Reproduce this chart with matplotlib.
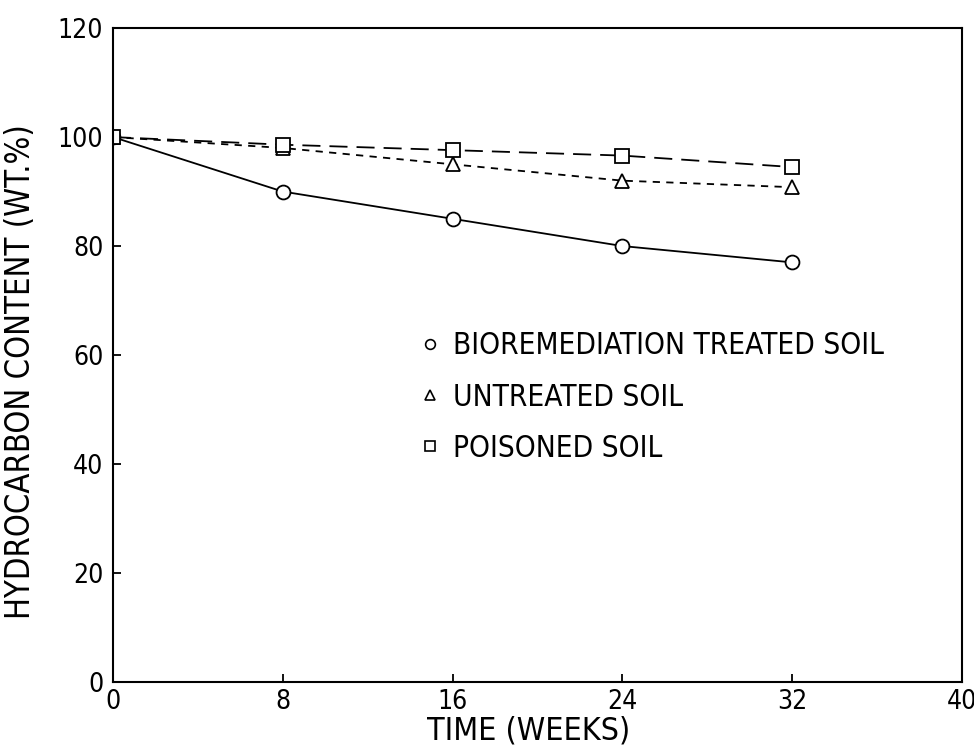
import matplotlib
matplotlib.use('Agg')
import matplotlib.pyplot as plt
from matplotlib.lines import Line2D
import warnings

warnings.filterwarnings('ignore')

# values
weeks = [0, 8, 16, 24, 32]
bioremediation = [100, 90, 85, 80, 77]
untreated = [100, 98, 95, 92, 90.8]
poisoned = [100, 98.6, 97.6, 96.6, 94.5]

series_labels = ['BIOREMEDIATION TREATED SOIL', 'UNTREATED SOIL', 'POISONED SOIL']
x_ticks = [0, 8, 16, 24, 32, 40]
y_ticks = [0, 20, 40, 60, 80, 100, 120]

plt.rcParams['font.family'] = ['DejaVu Sans']
plt.rcParams['font.stretch'] = 'condensed'

fig = plt.figure(figsize=(9.74, 7.49), dpi=100)
ax = fig.add_axes([0.116, 0.0895, 0.8717, 0.873])

mk = dict(markerfacecolor='white', markeredgecolor='black', markeredgewidth=1.3,
          color='black', linewidth=1.3)
ax.plot(weeks, bioremediation, marker='o', markersize=10, linestyle='-', **mk)
ax.plot(weeks, untreated, marker='^', markersize=10, dashes=(4, 3.5), **mk)
ax.plot(weeks, poisoned, marker='s', markersize=10, dashes=(10, 5), **mk)

ax.set_xlim(0, 40)
ax.set_ylim(0, 120)
ax.set_xticks(x_ticks)
ax.set_yticks(y_ticks)
ax.tick_params(direction='in', length=6, width=1.3, labelsize=19, top=False, right=False)
ax.tick_params(axis='x', pad=5)
ax.tick_params(axis='y', pad=7)
for s in ax.spines.values():
    s.set_linewidth(1.5)

ax.set_xlabel('TIME (WEEKS)', fontsize=23)
ax.xaxis.set_label_coords(0.49, -0.052)
ax.set_ylabel('HYDROCARBON CONTENT (WT.%)', fontsize=23.5)
ax.yaxis.set_label_coords(-0.089, 0.474)

handles = [
    Line2D([], [], marker='o', linestyle='none', markersize=7, markerfacecolor='white',
           markeredgecolor='black', markeredgewidth=1.2),
    Line2D([], [], marker='^', linestyle='none', markersize=7, markerfacecolor='white',
           markeredgecolor='black', markeredgewidth=1.2),
    Line2D([], [], marker='s', linestyle='none', markersize=7, markerfacecolor='white',
           markeredgecolor='black', markeredgewidth=1.2),
]
ax.legend(handles, series_labels, loc='center left', bbox_to_anchor=(0.3557, 0.4358),
          frameon=False, fontsize=21.3, handlelength=1.0, handletextpad=0.3,
          labelspacing=0.75, borderpad=0, borderaxespad=0)

plt.savefig('out.png', dpi=100)
